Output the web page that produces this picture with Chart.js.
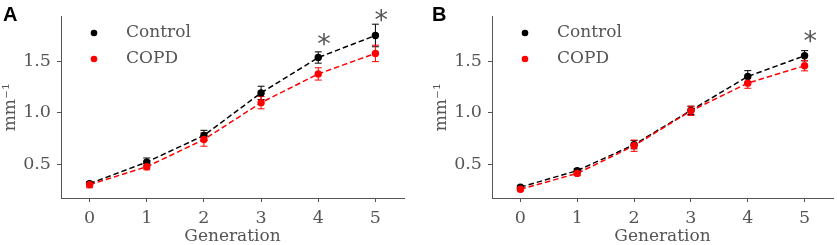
<!DOCTYPE html>
<html>
<head>
<meta charset="utf-8">
<script src="https://cdn.jsdelivr.net/npm/chart.js@4.4.1/dist/chart.umd.min.js"></script>
<style>
  body { margin: 0; background: #fff; }
  #wrap { position: relative; width: 837px; height: 245px; }
  canvas { position: absolute; top: 0; }
</style>
</head>
<body>
<div id="wrap">
  <canvas id="chartA" width="418" height="245" style="left:0"></canvas>
  <canvas id="chartB" width="417" height="245" style="left:420px"></canvas>
</div>
<script>
// data
const generations = [0, 1, 2, 3, 4, 5];
const yTicks = [0.5, 1.0, 1.5];
const seriesNames = ['Control', 'COPD'];

// panel A
const controlA = [0.31, 0.52, 0.78, 1.195, 1.54, 1.755];
const controlErrA = [0.02, 0.04, 0.05, 0.065, 0.055, 0.11];
const copdA = [0.30, 0.475, 0.74, 1.10, 1.38, 1.58];
const copdErrA = [0.03, 0.03, 0.065, 0.06, 0.06, 0.08];
const starGenA = [4, 5];
const starValA = [1.74, 1.97];

// panel B
const controlB = [0.276, 0.437, 0.69, 1.025, 1.355, 1.557];
const controlErrB = [0.015, 0.02, 0.04, 0.04, 0.057, 0.05];
const copdB = [0.255, 0.41, 0.68, 1.02, 1.29, 1.46];
const copdErrB = [0.015, 0.02, 0.055, 0.045, 0.05, 0.05];
const starGenB = [5];
const starValB = [1.76];

const grey = '#555';
const serif = "'DejaVu Serif', serif";

// error bars + asterisks + legend + panel letter
const extras = {
  id: 'extras',
  beforeDatasetsDraw(chart, args, opts) {
    const ctx = chart.ctx;
    const xs = chart.scales.x, ys = chart.scales.y;
    chart.data.datasets.forEach(ds => {
      ctx.save();
      ctx.strokeStyle = ds.borderColor;
      ctx.lineWidth = 1;
      ds.data.forEach((p, i) => {
        const px = xs.getPixelForValue(p.x);
        const top = ys.getPixelForValue(p.y + ds.err[i]);
        const bot = ys.getPixelForValue(p.y - ds.err[i]);
        ctx.beginPath();
        ctx.moveTo(px, top); ctx.lineTo(px, bot);
        ctx.moveTo(px - 3.5, top); ctx.lineTo(px + 3.5, top);
        ctx.moveTo(px - 3.5, bot); ctx.lineTo(px + 3.5, bot);
        ctx.stroke();
      });
      ctx.restore();
    });
  },
  afterDraw(chart, args, opts) {
    const ctx = chart.ctx;
    const xs = chart.scales.x, ys = chart.scales.y;
    const area = chart.chartArea;
    ctx.save();
    // asterisks
    ctx.fillStyle = grey;
    ctx.font = "27px 'DejaVu Sans', sans-serif";
    ctx.textAlign = 'center';
    ctx.textBaseline = 'alphabetic';
    opts.starGen.forEach((g, i) => {
      const px = xs.getPixelForValue(g + 0.1);
      const py = ys.getPixelForValue(opts.starVal[i]);
      ctx.fillText('*', px, py + 15.5);
    });
    // legend
    ctx.font = '17px ' + serif;
    ctx.textAlign = 'left';
    ctx.textBaseline = 'middle';
    chart.data.datasets.slice().sort((a, b) => b.order - a.order).forEach((ds, i) => {
      const y = 33 + i * 26;
      ctx.fillStyle = ds.pointBackgroundColor;
      ctx.beginPath();
      ctx.arc(area.left + 33, y, 3.3, 0, Math.PI * 2);
      ctx.fill();
      ctx.fillStyle = grey;
      ctx.fillText(ds.label, area.left + 65, y);
    });
    // panel letter
    ctx.fillStyle = '#000';
    ctx.font = "bold 20px 'Liberation Sans', Arial, sans-serif";
    ctx.textBaseline = 'alphabetic';
    ctx.fillText(opts.letter, opts.letterX, 20.5);
    ctx.restore();
  }
};

function makeChart(id, ctl, ctlErr, copd, copdErr, starGen, starVal, letter, leftW, titlePad, letterX, rightPad) {
  const toPts = arr => generations.map((g, i) => ({ x: g, y: arr[i] }));
  new Chart(document.getElementById(id), {
    type: 'line',
    data: {
      datasets: [
        {
          label: seriesNames[0], data: toPts(ctl), err: ctlErr, order: 2,
          borderColor: '#000', pointBackgroundColor: '#000', pointBorderWidth: 0,
          pointRadius: 3.7, borderWidth: 1.5, borderDash: [5.5, 3], tension: 0
        },
        {
          label: seriesNames[1], data: toPts(copd), err: copdErr, order: 1,
          borderColor: '#ff0000', pointBackgroundColor: '#ff0000', pointBorderWidth: 0,
          pointRadius: 3.7, borderWidth: 1.5, borderDash: [5.5, 3], tension: 0
        }
      ]
    },
    options: {
      responsive: false,
      animation: false,
      devicePixelRatio: 1,
      layout: { padding: { top: 10, right: rightPad, left: 0, bottom: 0 } },
      plugins: {
        legend: { display: false },
        tooltip: { enabled: false },
        extras: { starGen: starGen, starVal: starVal, letter: letter, letterX: letterX }
      },
      scales: {
        x: {
          type: 'linear', min: -0.5, max: 5.5,
          afterBuildTicks: s => { s.ticks = generations.map(v => ({ value: v })); },
          afterFit: s => { s.height = 47; },
          grid: { drawOnChartArea: false, drawTicks: true, tickLength: 4, color: grey },
          border: { color: grey, width: 1 },
          ticks: { color: grey, font: { family: serif, size: 17.5 }, padding: 6, maxRotation: 0 },
          title: { display: true, text: 'Generation', color: grey,
                   font: { family: serif, size: 17, lineHeight: 1 }, padding: { top: 0, bottom: 0 } }
        },
        y: {
          min: 0.17, max: 1.94,
          afterBuildTicks: s => { s.ticks = yTicks.map(v => ({ value: v })); },
          afterFit: s => { s.width = leftW; },
          grid: { drawOnChartArea: false, drawTicks: true, tickLength: 4, color: grey },
          border: { color: grey, width: 1 },
          ticks: { color: grey, font: { family: serif, size: 17.5 }, padding: 6,
                   callback: v => v.toFixed(1) },
          title: { display: true, text: 'mm\u207B\u00B9', color: grey,
                   font: { family: serif, size: 17, lineHeight: 1.2 }, padding: { top: titlePad, bottom: 0 } }
        }
      }
    },
    plugins: [extras]
  });
}

makeChart('chartA', controlA, controlErrA, copdA, copdErrA, starGenA, starValA, 'A', 61, 0, 3, 14);
makeChart('chartB', controlB, controlErrB, copdB, copdErrB, starGenB, starValB, 'B', 72, 11, 12, 2);
</script>
</body>
</html>
